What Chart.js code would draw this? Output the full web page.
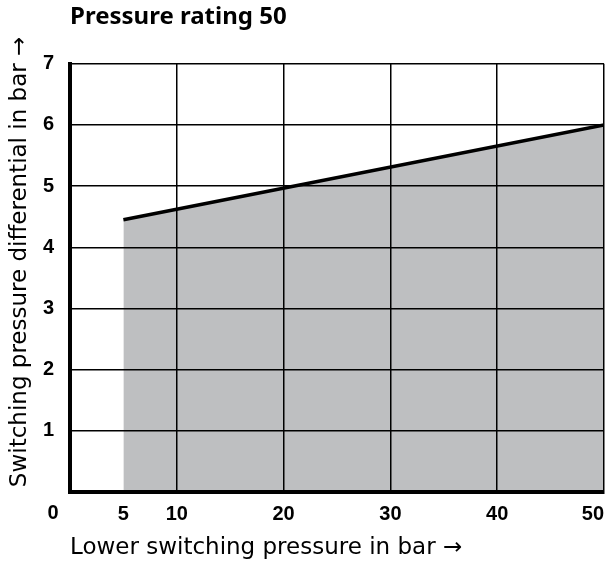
<!DOCTYPE html>
<html>
<head>
<meta charset="utf-8">
<script src="https://cdn.jsdelivr.net/npm/chart.js@4/dist/chart.umd.min.js"></script>
<style>
  html, body { margin: 0; padding: 0; background: #fff; }
  #wrap { width: 613px; height: 566px; }
</style>
</head>
<body>
<div id="wrap"><canvas id="chart" width="613" height="566"></canvas></div>
<script>
// values
const lowerPressure = [5, 50];
const differential = [4.45, 6.0];
const xTickValues = [0, 5, 10, 20, 30, 40, 50];
const xGridValues = [10, 20, 30, 40, 50];

const tickFont = { family: "'Liberation Sans Narrow', 'Liberation Sans', sans-serif", size: 20, weight: 'bold' };
const textFont = { family: "'DejaVu Sans', sans-serif", size: 23 };

// "0" sits in the y label column, and the y title is shifted up a bit
const extras = {
  id: 'extras',
  afterDraw(chart) {
    const { ctx, chartArea, scales } = chart;
    ctx.save();
    ctx.fillStyle = '#000';
    ctx.font = 'bold 20px ' + tickFont.family;
    ctx.textAlign = 'center';
    ctx.textBaseline = 'middle';
    ctx.fillText('0', scales.x.getPixelForValue(0) - 17, chartArea.bottom + 21);

    ctx.font = '23px ' + textFont.family;
    ctx.translate(20, (chartArea.top + chartArea.bottom) / 2 - 16);
    ctx.rotate(-Math.PI / 2);
    ctx.fillText('Switching pressure differential in bar \u2192', 0, 0);
    ctx.restore();
  }
};

const chart = new Chart(document.getElementById('chart').getContext('2d'), {
  type: 'line',
  data: {
    datasets: [
      {
        data: lowerPressure.map((x, i) => ({ x: x, y: differential[i] })),
        borderColor: '#000',
        borderWidth: 3.5,
        backgroundColor: '#bebfc1',
        fill: 'origin',
        pointRadius: 0,
        tension: 0,
      },
    ],
  },
  options: {
    responsive: false,
    animation: false,
    layout: { padding: { top: 0, right: 9, bottom: 0, left: 0 } },
    plugins: {
      legend: { display: false },
      tooltip: { enabled: false },
      title: {
        display: true,
        text: 'Pressure rating 50',
        align: 'start',
        fullSize: false,
        color: '#000',
        font: { family: "'Noto Sans', sans-serif", size: 24, weight: 'bold' },
        padding: { top: 3, bottom: 32 },
      },
    },
    scales: {
      x: {
        type: 'linear',
        min: 0,
        max: 50,
        afterBuildTicks: (scale) => {
          scale.ticks = xTickValues.map((v) => ({ value: v }));
        },
        afterFit: (scale) => {
          scale.height = 74;
          scale.paddingRight = 0;
        },
        ticks: {
          color: '#000',
          font: tickFont,
          padding: 10,
          align: 'inner',
          maxRotation: 0,
          autoSkip: false,
          callback: (v) => (v === 0 ? '' : String(v)),
        },
        grid: {
          z: 1,
          drawTicks: false,
          lineWidth: 1.5,
          color: (c) => (xGridValues.includes(c.tick.value) ? '#000' : 'rgba(0,0,0,0)'),
        },
        border: { display: true, color: '#000', width: 4, z: 1 },
        title: {
          display: true,
          text: 'Lower switching pressure in bar \u2192',
          align: 'start',
          color: '#000',
          font: textFont,
          padding: { top: 0, bottom: 4 },
        },
      },
      y: {
        min: 0,
        max: 7,
        afterFit: (scale) => { scale.width = 70; },
        ticks: {
          stepSize: 1,
          color: '#000',
          font: tickFont,
          padding: 16,
          callback: (v) => (v === 0 ? '' : String(v)),
        },
        grid: { z: 1, drawTicks: false, lineWidth: 1.5, color: '#000' },
        border: { display: true, color: '#000', width: 4, z: 1 },
      },
    },
  },
  plugins: [extras],
});
</script>
</body>
</html>
